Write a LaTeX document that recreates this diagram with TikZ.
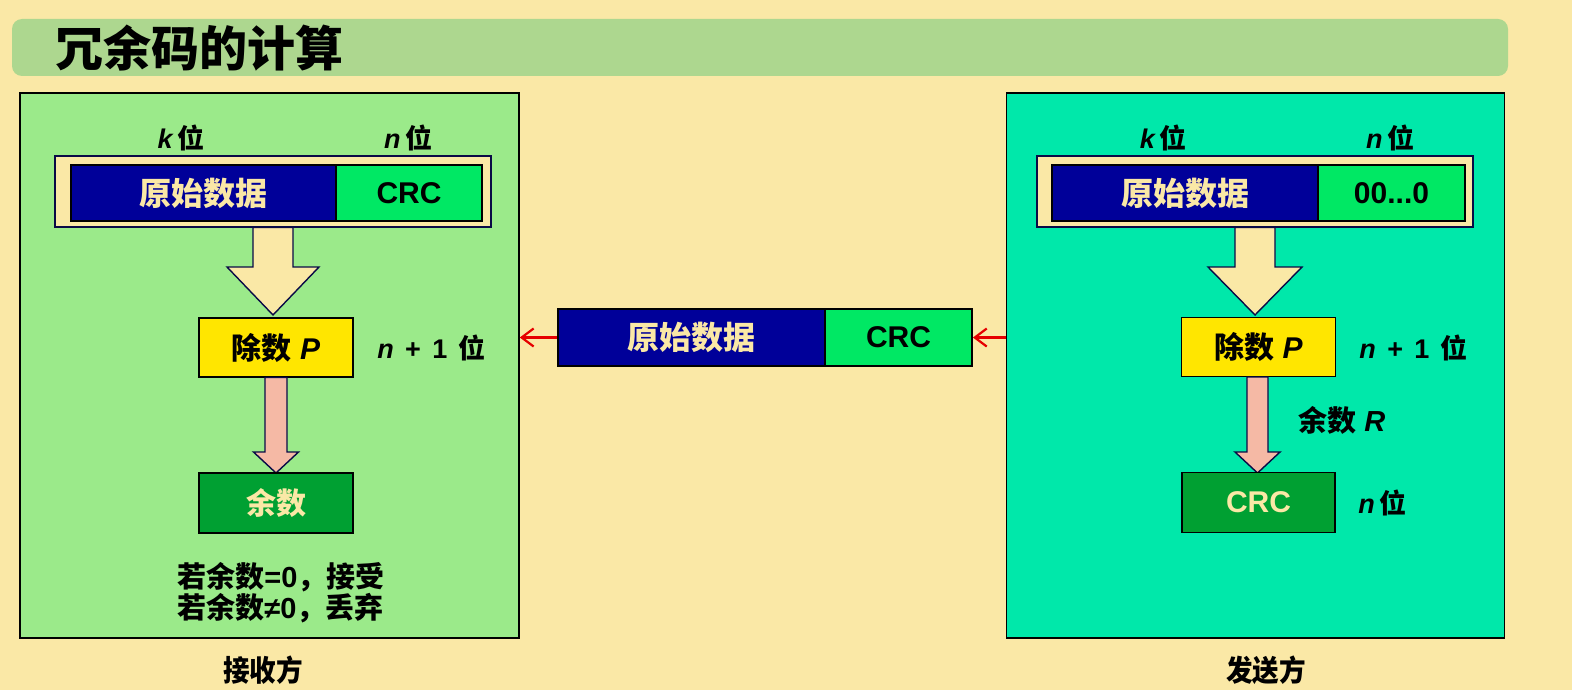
\documentclass[tikz,border=0pt]{standalone}
\usepackage{fontspec}
\setmainfont{Liberation Sans}
\newfontfamily\cjk{Noto Sans CJK SC}
\usetikzlibrary{arrows.meta}
\definecolor{bg}{RGB}{250,232,166}
\definecolor{titlebar}{RGB}{173,215,143}
\definecolor{leftfill}{RGB}{155,234,138}
\definecolor{rightfill}{RGB}{0,232,170}
\definecolor{navy}{RGB}{0,0,153}
\definecolor{brightgreen}{RGB}{0,232,100}
\definecolor{yell}{RGB}{255,230,0}
\definecolor{pinkish}{RGB}{245,185,165}
\definecolor{darkgreen}{RGB}{0,160,50}
\definecolor{cream}{RGB}{250,232,166}
\definecolor{redarrow}{RGB}{230,0,0}
\definecolor{frameline}{RGB}{10,10,70}
\newcommand\cj[1]{{\cjk\bfseries #1}}
\newcommand\lt[1]{{\bfseries #1}}
\newcommand\gap{\hspace{0.42em}}
\newcommand\blockarrow[7]{%
  \filldraw[fill=#1, draw=frameline, line width=0.7pt, line join=miter]
   (#2-#4,#3) -- (#2+#4,#3) -- (#2+#4,#6) -- (#2+#5,#6) -- (#2,#7) -- (#2-#5,#6) -- (#2-#4,#6) -- cycle;}
\tikzset{
  panel/.style={draw=black, line width=0.8pt, inner sep=0pt},
  frame/.style={draw=frameline, fill=cream, line width=0.7pt, minimum width=218pt, minimum height=35.5pt, inner sep=0pt},
  databox/.style={draw=black, fill=navy, line width=0.9pt, minimum height=28pt, inner sep=0pt, text=cream, font=\fontsize{16}{18}\selectfont},
  crcbox/.style={draw=black, fill=brightgreen, line width=0.9pt, minimum height=28pt, inner sep=0pt, text=black, font=\fontsize{15}{18}\selectfont},
  divbox/.style={draw=black, fill=yell, line width=0.7pt, minimum width=77pt, minimum height=29.5pt, inner sep=0pt, font=\fontsize{15}{18}\selectfont},
  remainbox/.style={draw=black, fill=darkgreen, line width=0.7pt, minimum width=77pt, minimum height=30pt, inner sep=0pt, text=cream, font=\fontsize{15}{18}\selectfont},
  lbl/.style={font=\fontsize{13.5}{16}\selectfont, inner sep=0pt},
  redarr/.style={draw=redarrow, line width=1.1pt, -{Straight Barb[length=6pt,width=9pt,line width=1.1pt]}}
}
\begin{document}
\begin{tikzpicture}[x=0.5pt,y=-0.5pt]
\useasboundingbox (0,0) rectangle (1572,690);
\fill[bg] (0,0) rectangle (1572,690);
% title bar
\fill[titlebar, rounded corners=5pt] (12,19) rectangle (1508,76);
\node[anchor=west, inner sep=0pt, font=\fontsize{24}{28}\selectfont] (title) at (55,48) {\cj{冗余码的计算}};

% panels
\node[panel, fill=leftfill, minimum width=249.5pt, minimum height=272.5pt] (leftpanel) at (269.5,365.5) {};
\node[panel, fill=rightfill, minimum width=249pt, minimum height=272.5pt] (rightpanel) at (1255.5,365.5) {};

% ---------- left (receiver) ----------
\node[lbl] (lk) at (181,138) {\lt{\itshape k}\,\cj{位}};
\node[lbl] (ln) at (408,138) {\lt{\itshape n}\,\cj{位}};
\node[frame] (lframe) at (273,191.5) {};
\node[databox, minimum width=132.5pt] (lblue) at (203.5,193) {\cj{原始数据}};
\node[crcbox, minimum width=73pt] (lgreen) at (409,193) {\lt{CRC}};
\blockarrow{cream}{273}{227.5}{20}{46}{267}{315}
\node[divbox] (ldiv) at (276,347.5) {\cj{除数}\ \lt{\itshape P}};
\node[lbl, anchor=west] (lnp1) at (377,348) {\lt{\itshape n}\lt{\gap+\gap1\gap}\cj{位}};
\blockarrow{pinkish}{276}{377.5}{11}{22.5}{452}{473}
\node[remainbox] (lrem) at (276,503) {\cj{余数}};
\node[lbl, anchor=west, font=\fontsize{14.5}{16}\selectfont] (rule1) at (177,577) {\cj{若余数}\lt{=0}\cj{，接受}};
\node[lbl, anchor=west, font=\fontsize{14.5}{16}\selectfont] (rule2) at (177,608) {\cj{若余数}\lt{≠0}\cj{，丢弃}};
\node[lbl, font=\fontsize{14}{16}\selectfont] (recv) at (263,670) {\scalebox{0.95}[1.05]{\cj{接收方}}};

% ---------- middle ----------
\node[databox, minimum width=133.5pt, minimum height=28.5pt] (mblue) at (691.5,337.5) {\cj{原始数据}};
\node[crcbox, minimum width=73.5pt, minimum height=28.5pt] (mgreen) at (898.5,337.5) {\lt{CRC}};
\draw[redarr] (mblue.west) -- (mblue.west -| leftpanel.east);
\draw[redarr] (mgreen.east -| rightpanel.west) -- (mgreen.east);

% ---------- right (sender) ----------
\node[lbl] (rk) at (1163,138) {\lt{\itshape k}\,\cj{位}};
\node[lbl] (rn) at (1390,138) {\lt{\itshape n}\,\cj{位}};
\node[frame] (rframe) at (1255,191.5) {};
\node[databox, minimum width=133pt] (rblue) at (1185,193) {\cj{原始数据}};
\node[crcbox, minimum width=73.5pt] (rgreen) at (1391.5,193) {\lt{00...0}};
\blockarrow{cream}{1255}{227.5}{20}{47}{267}{315}
\node[divbox] (rdiv) at (1258.5,347) {\cj{除数}\ \lt{\itshape P}};
\node[lbl, anchor=west] (rnp1) at (1359,348) {\lt{\itshape n}\lt{\gap+\gap1\gap}\cj{位}};
\blockarrow{pinkish}{1257.5}{377}{10.5}{22.5}{452}{473}
\node[lbl, anchor=west, font=\fontsize{14.5}{16}\selectfont] (rR) at (1298,420) {\cj{余数}\ \lt{\itshape R}};
\node[remainbox, minimum width=76.5pt] (rcrc) at (1258.5,502.5) {\lt{CRC}};
\node[lbl, anchor=west] (rnbits) at (1358,503) {\lt{\itshape n}\,\cj{位}};
\node[lbl, font=\fontsize{14}{16}\selectfont] (send) at (1266,670) {\scalebox{0.95}[1.05]{\cj{发送方}}};
\end{tikzpicture}
\end{document}
